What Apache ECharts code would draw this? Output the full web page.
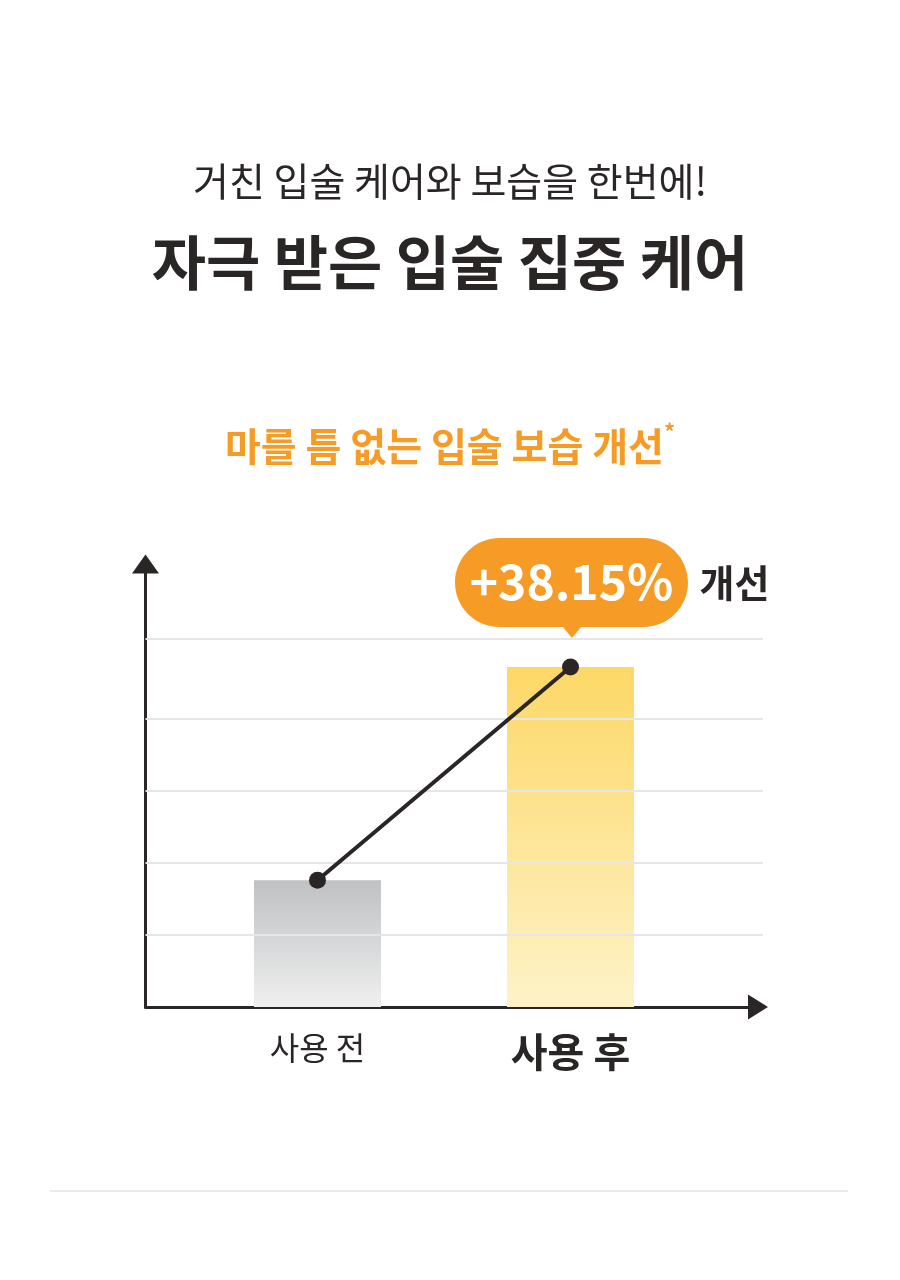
<!DOCTYPE html>
<html>
<head>
<meta charset="utf-8">
<title>입술 보습 개선</title>
<script src="https://cdn.jsdelivr.net/npm/echarts@6/dist/echarts.min.js"></script>
<style>
  html, body { margin: 0; padding: 0; background: #fff; }
  #chart { width: 900px; height: 1280px; }
</style>
</head>
<body>
<div id="chart"></div>
<script>
const categories = ['사용 전', '사용 후']
const moisture = [17.6, 47.2]
const gridLevels = [10, 20, 30, 40, 51.1]
const yMax = 61.5
const improvement = 38.15

const dark = '#2b2626'
const orange = '#f69c26'
const font = '"Noto Sans CJK KR", "Noto Sans", sans-serif'

// speech bubble: pill + little pointer at the bottom
const bubblePath = 'path://M44.5,0 H188.5 C213.08,0 233,19.92 233,44.5 C233,69.08 213.08,89 188.5,89 ' +
    'H126 L117,100 L108,89 H44.5 C19.92,89 0,69.08 0,44.5 C0,19.92 19.92,0 44.5,0 Z'

const chart = echarts.init(document.getElementById('chart'))

const barColor = (idx) => {
    const stops = idx === 0 ? ['#bfc1c3', '#efefef'] : ['#fdd867', '#fef3c8']
    return new echarts.graphic.LinearGradient(0, 0, 0, 1, [
        { offset: 0, color: stops[0] },
        { offset: 1, color: stops[1] }
    ])
}

const option = {
    backgroundColor: '#fff',
    animation: false,
    textStyle: { fontFamily: font },
    title: [
        {
            text: '거친 입술 케어와 보습을 한번에!',
            left: 'center',
            top: 151,
            textStyle: { fontFamily: font, fontSize: 39, fontWeight: 'normal', color: dark, lineHeight: 50 }
        },
        {
            text: '자극 받은 입술 집중 케어',
            left: 'center',
            top: 222,
            textStyle: { fontFamily: font, fontSize: 59, fontWeight: 'bold', color: dark, lineHeight: 72 }
        },
        {
            text: '{m|마를 틈 없는 입술 보습 개선}{s|*}',
            left: 'center',
            top: 416,
            textStyle: {
                rich: {
                    m: { fontFamily: font, fontSize: 39, fontWeight: 'bold', color: orange, lineHeight: 50 },
                    s: { fontFamily: font, fontSize: 22, fontWeight: 'bold', color: orange, verticalAlign: 'top', lineHeight: 30 }
                }
            }
        }
    ],
    grid: [
        { left: 145.5, right: 137, top: 564, bottom: 273 },
        { left: 191, right: 203, top: 564, bottom: 273 }
    ],
    xAxis: [
        {
            type: 'value', gridIndex: 0, min: 0, max: 1,
            axisLine: {
                show: true,
                symbol: ['none', 'triangle'],
                symbolSize: [25, 20],
                symbolOffset: [0, -5],
                lineStyle: { color: dark, width: 3 }
            },
            axisTick: { show: false },
            axisLabel: { show: false },
            splitLine: { show: false }
        },
        {
            type: 'category', gridIndex: 1, data: categories,
            axisLine: { show: false },
            axisTick: { show: false },
            axisLabel: {
                margin: 21,
                formatter: (v, i) => i === 0 ? '{a|' + v + '}' : '{b|' + v + '}',
                rich: {
                    a: { fontFamily: font, fontSize: 32, color: dark, lineHeight: 40 },
                    b: { fontFamily: font, fontSize: 40, fontWeight: 'bold', color: dark, lineHeight: 48 }
                }
            }
        }
    ],
    yAxis: [
        {
            type: 'value', gridIndex: 0, min: 0, max: yMax,
            axisLine: {
                show: true,
                symbol: ['none', 'triangle'],
                symbolSize: [27, 19],
                lineStyle: { color: dark, width: 3 }
            },
            axisTick: { show: false },
            axisLabel: { show: false },
            splitLine: { show: false }
        },
        {
            type: 'value', gridIndex: 1, min: 0, max: yMax, show: false,
            splitLine: { show: false }
        }
    ],
    series: [
        {
            // guide lines only
            type: 'line', xAxisIndex: 0, yAxisIndex: 0, data: [],
            markLine: {
                silent: true,
                symbol: 'none',
                label: { show: false },
                lineStyle: { color: '#e6e6e6', width: 2, type: 'solid' },
                data: gridLevels.map((v) => ({ yAxis: v }))
            }
        },
        {
            type: 'bar', xAxisIndex: 1, yAxisIndex: 1,
            barWidth: 127,
            data: moisture.map((v, i) => ({ value: v, itemStyle: { color: barColor(i) } }))
        },
        {
            type: 'line', xAxisIndex: 1, yAxisIndex: 1, z: 5,
            data: moisture,
            symbol: 'circle',
            symbolSize: 17,
            itemStyle: { color: dark },
            lineStyle: { color: dark, width: 4 },
            markPoint: {
                silent: true,
                data: [
                    {
                        coord: [categories[1], moisture[1]],
                        symbol: bubblePath,
                        symbolKeepAspect: false,
                        symbolSize: [233, 100],
                        symbolOffset: [1, -79],
                        itemStyle: { color: orange },
                        label: {
                            show: true,
                            position: 'inside',
                            offset: [0, -6],
                            formatter: '+' + improvement.toFixed(2) + '%',
                            fontFamily: font,
                            fontSize: 48,
                            fontWeight: 'bold',
                            color: '#fff'
                        }
                    },
                    {
                        coord: [categories[1], moisture[1]],
                        symbol: 'circle',
                        symbolSize: 0,
                        label: {
                            show: true,
                            position: 'inside',
                            offset: [164, -84],
                            formatter: '개선',
                            fontFamily: font,
                            fontSize: 38,
                            fontWeight: 'bold',
                            color: dark
                        }
                    }
                ]
            }
        }
    ],
    graphic: [
        {
            type: 'line',
            shape: { x1: 50, y1: 1191, x2: 848, y2: 1191 },
            style: { stroke: '#e4e4e4', lineWidth: 1.5 }
        }
    ]
}

chart.setOption(option)
</script>
</body>
</html>
